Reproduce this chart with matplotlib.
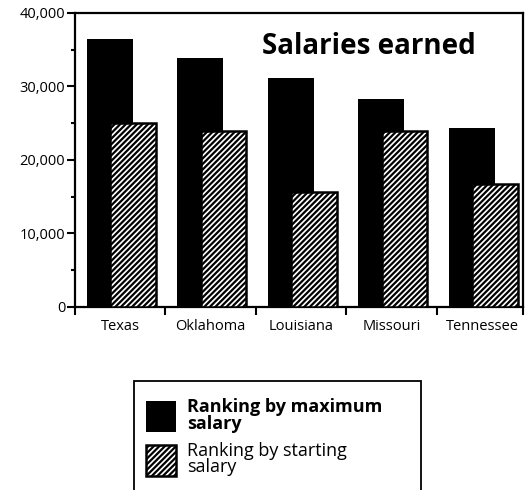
import matplotlib
matplotlib.use("Agg")
import matplotlib.pyplot as plt
from matplotlib.patches import Rectangle
import numpy as np

# data
states = ["Texas", "Oklahoma", "Louisiana", "Missouri", "Tennessee"]
max_salary = [36400, 33900, 31100, 28300, 24400]
start_salary = [25100, 23900, 15700, 24000, 16700]
y_ticks = [0, 10000, 20000, 30000, 40000]
y_labels = ["0", "10,000", "20,000", "30,000", "40,000"]

plt.rcParams["font.family"] = ["Open Sans", "DejaVu Sans"]
plt.rcParams["hatch.linewidth"] = 1.6
plt.rcParams["hatch.color"] = "black"

fig = plt.figure(figsize=(5.28, 4.9), dpi=100)
ax = fig.add_axes([0.142, 0.3735, 0.8485, 0.6])

x = np.arange(len(states))
# black bars sit behind, hatched bars overlap them on the right
ax.bar(x + 0.13, max_salary, width=0.51, align="edge", color="black",
       label="Ranking by maximum\nsalary", zorder=2)
ax.bar(x + 0.39, start_salary, width=0.50, align="edge", facecolor="white",
       edgecolor="black", hatch="//////", linewidth=1.8,
       label="Ranking by starting\nsalary", zorder=3)

ax.set_xlim(0, 4.95)
ax.set_ylim(0, 40000)

# ticks at the category boundaries, labels in the middle
ax.set_xticks(list(x) + [4.95])
ax.set_xticklabels([])
ax.set_xticks(x + 0.5, minor=True)
ax.set_xticklabels(states, minor=True, fontsize=10.5)
ax.tick_params(axis="x", which="major", direction="out", length=6, width=1.5)
ax.tick_params(axis="x", which="minor", length=0, pad=9)

ax.set_yticks(y_ticks)
ax.set_yticklabels(y_labels, fontsize=10.5)
ax.set_yticks([5000, 15000, 25000, 35000], minor=True)
ax.tick_params(axis="y", which="major", direction="out", length=6, width=1.5, pad=1)
ax.tick_params(axis="y", which="minor", direction="out", length=3, width=1.5)

for s in ax.spines.values():
    s.set_linewidth(1.6)

ax.text(0.655, 0.885, "Salaries earned", transform=ax.transAxes,
        ha="center", va="center", fontsize=20, fontweight="bold")

# legend box runs off the bottom of the page in the original
fig.patches.append(Rectangle((134 / 528, -0.05), 287 / 528, 0.05 + 1 - 381 / 490,
                             transform=fig.transFigure, facecolor="white",
                             edgecolor="black", linewidth=1.3, zorder=1))

leg = fig.legend(loc="upper left",
                 bbox_to_anchor=(146 / 528, 1 - 398 / 490),
                 fontsize=13, handlelength=1.65, handleheight=2.3,
                 handletextpad=0.6, borderpad=0, labelspacing=0.5,
                 frameon=False, borderaxespad=0)
for t in leg.get_texts():
    t.set_linespacing(0.9)
leg.get_texts()[0].set_fontweight("bold")

fig.savefig("out.png", dpi=100)
